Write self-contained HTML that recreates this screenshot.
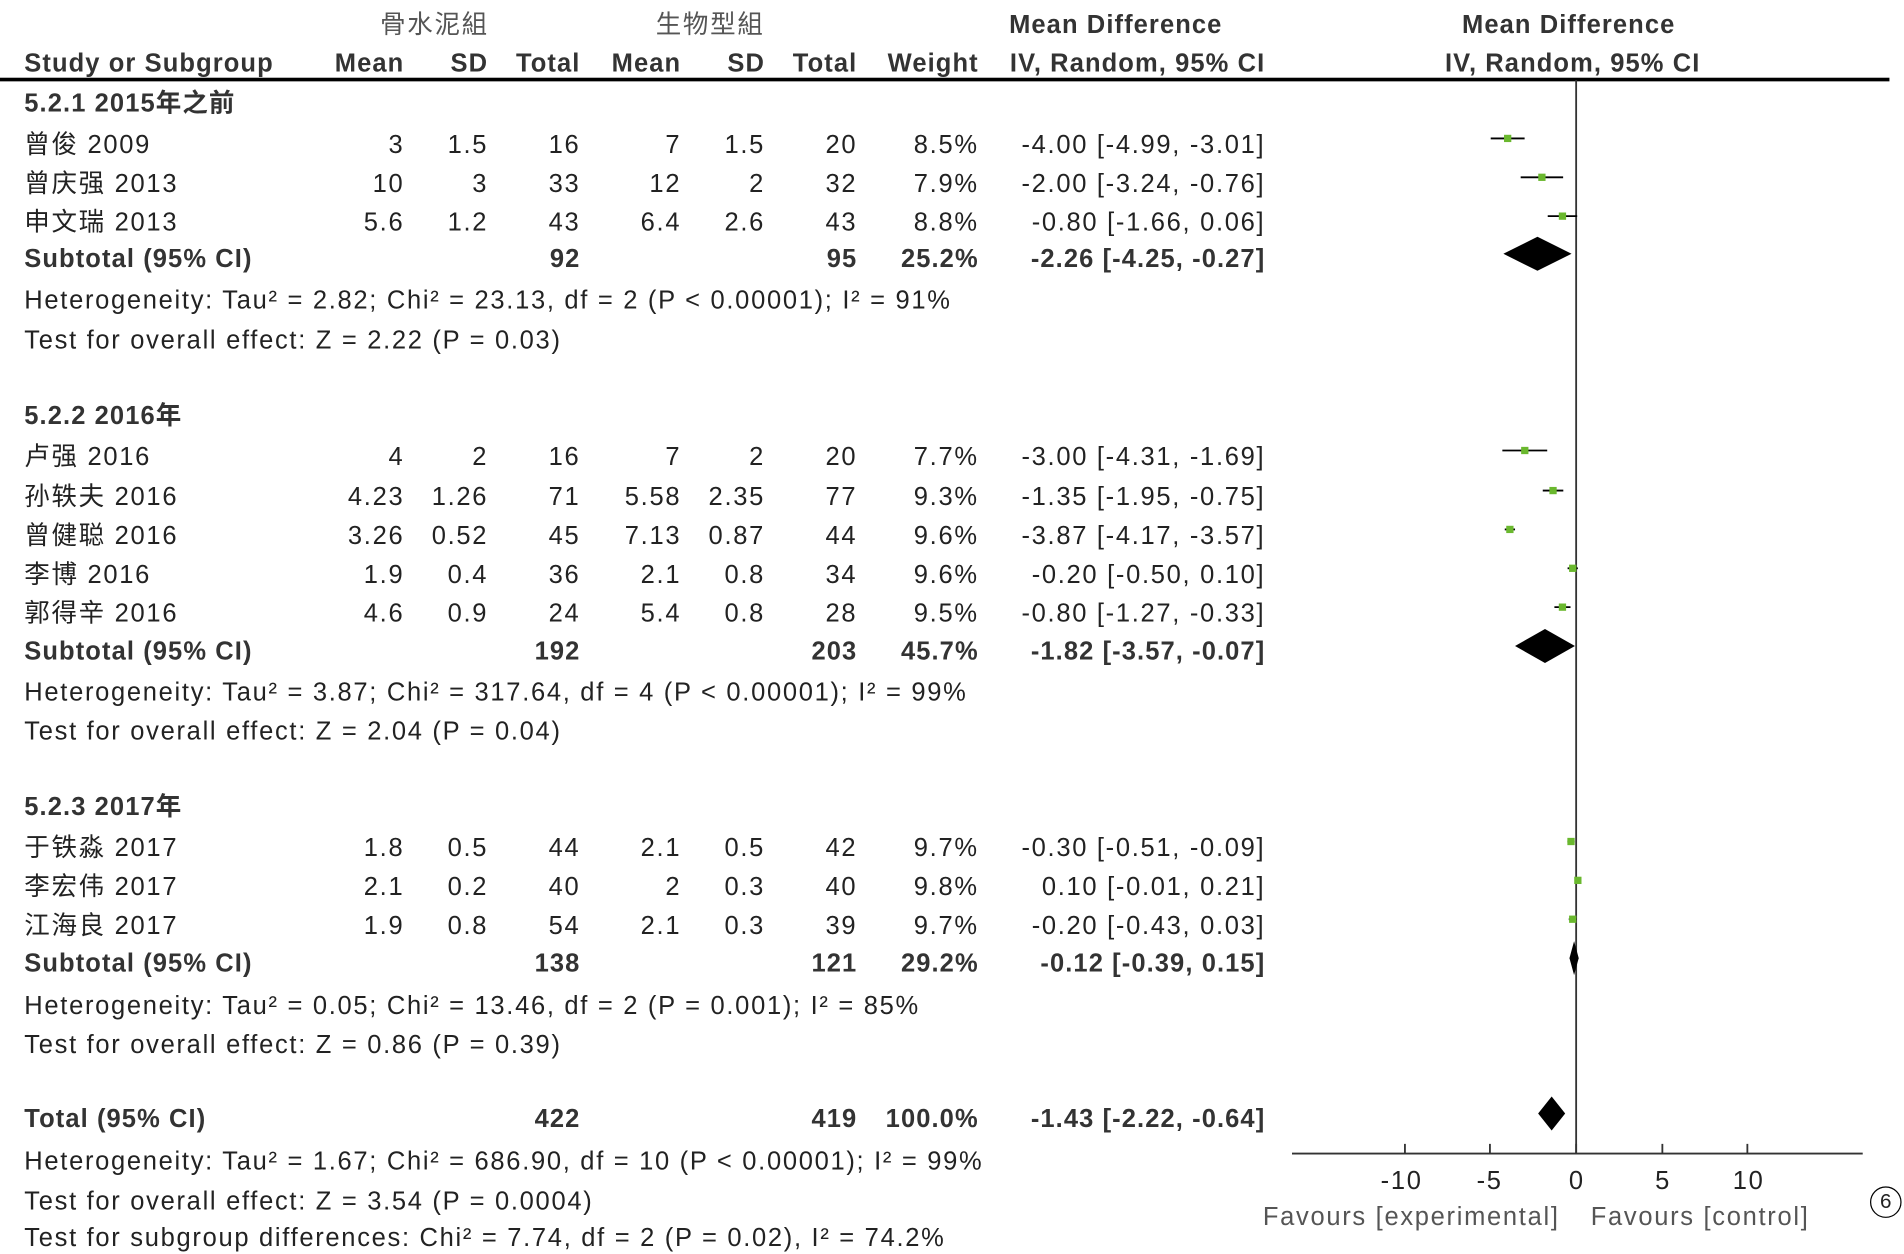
<!DOCTYPE html>
<html><head><meta charset="utf-8"><style>
html,body{margin:0;padding:0;background:#fff;width:1904px;height:1252px;overflow:hidden}
#w{position:absolute;left:0;top:0;width:1568px;height:1031px;transform:scale(1.21429);transform-origin:0 0;font-family:"Liberation Sans","Noto Sans CJK SC",sans-serif;font-size:21px;color:#222;letter-spacing:1.4px}
#w div{position:absolute;white-space:nowrap;line-height:26px}
.b{font-weight:bold;color:#333;letter-spacing:0.9px}
.g{color:#555}
</style></head><body><div id="w">
<div class="g" style="left:313px;top:8px">骨水泥組</div>
<div class="g" style="left:540px;top:8px">生物型組</div>
<div class="b" style="left:831px;top:8px">Mean Difference</div>
<div class="b" style="left:1204px;top:8px">Mean Difference</div>
<div class="b" style="left:20px;top:40px">Study or Subgroup</div>
<div class="b" style="right:1235px;top:40px">Mean</div>
<div class="b" style="right:1166px;top:40px">SD</div>
<div class="b" style="right:1090px;top:40px">Total</div>
<div class="b" style="right:1007px;top:40px">Mean</div>
<div class="b" style="right:938px;top:40px">SD</div>
<div class="b" style="right:862px;top:40px">Total</div>
<div class="b" style="right:762px;top:40px">Weight</div>
<div class="b" style="right:526px;top:40px">IV, Random, 95% CI</div>
<div class="b" style="left:1190px;top:40px">IV, Random, 95% CI</div>
<div style="left:0;top:64px;width:1556px;height:3px;background:#000"></div>

<div class="b" style="left:20px;top:73px">5.2.1 2015年之前</div>
<div class="b" style="left:20px;top:330px">5.2.2 2016年</div>
<div class="b" style="left:20px;top:652px">5.2.3 2017年</div>

<div id="rows"></div>
<div style="left:20px;top:235px">Heterogeneity: Tau² = 2.82; Chi² = 23.13, df = 2 (P &lt; 0.00001); I² = 91%</div>
<div style="left:20px;top:268px">Test for overall effect: Z = 2.22 (P = 0.03)</div>
<div style="left:20px;top:558px">Heterogeneity: Tau² = 3.87; Chi² = 317.64, df = 4 (P &lt; 0.00001); I² = 99%</div>
<div style="left:20px;top:590px">Test for overall effect: Z = 2.04 (P = 0.04)</div>
<div style="left:20px;top:816px">Heterogeneity: Tau² = 0.05; Chi² = 13.46, df = 2 (P = 0.001); I² = 85%</div>
<div style="left:20px;top:848px">Test for overall effect: Z = 0.86 (P = 0.39)</div>
<div style="left:20px;top:944px">Heterogeneity: Tau² = 1.67; Chi² = 686.90, df = 10 (P &lt; 0.00001); I² = 99%</div>
<div style="left:20px;top:977px">Test for overall effect: Z = 3.54 (P = 0.0004)</div>
<div style="left:20px;top:1007px">Test for subgroup differences: Chi² = 7.74, df = 2 (P = 0.02), I² = 74.2%</div>

<div style="left:1137px;top:960px">-10</div>
<div style="left:1216px;top:960px">-5</div>
<div style="left:1292px;top:960px">0</div>
<div style="left:1363px;top:960px">5</div>
<div style="left:1427px;top:960px">10</div>
<div class="g" style="left:1040px;top:990px">Favours [experimental]</div>
<div class="g" style="left:1310px;top:990px">Favours [control]</div>
<div style="left:1540px;top:977px;width:24px;height:24px;border:1.5px solid #000;border-radius:50%;text-align:center;line-height:24px;font-size:17px;letter-spacing:0">6</div>

<svg style="position:absolute;left:0;top:0" width="1568" height="1031">
<line x1="1298" y1="66" x2="1298" y2="950" stroke="#333" stroke-width="1.5"/>
<line x1="1064" y1="950" x2="1534" y2="950" stroke="#333" stroke-width="1.5"/>
<g stroke="#333" stroke-width="1.5">
<line x1="1157" y1="942" x2="1157" y2="950"/><line x1="1227" y1="942" x2="1227" y2="950"/><line x1="1298" y1="942" x2="1298" y2="950"/><line x1="1369" y1="942" x2="1369" y2="950"/><line x1="1439" y1="942" x2="1439" y2="950"/>
</g>
<g id="pl"></g>
</svg>
</div>
<script>
var R=[
[120,"曾俊 2009","3","1.5","16","7","1.5","20","8.5%","-4.00 [-4.99, -3.01]",-4,-4.99,-3.01,0],
[152,"曾庆强 2013","10","3","33","12","2","32","7.9%","-2.00 [-3.24, -0.76]",-2,-3.24,-0.76,0],
[184,"申文瑞 2013","5.6","1.2","43","6.4","2.6","43","8.8%","-0.80 [-1.66, 0.06]",-0.8,-1.66,0.06,0],
[214,"Subtotal (95% CI)","","","92","","","95","25.2%","-2.26 [-4.25, -0.27]",-2.26,-4.25,-0.27,1],
[377,"卢强 2016","4","2","16","7","2","20","7.7%","-3.00 [-4.31, -1.69]",-3,-4.31,-1.69,0],
[410,"孙轶夫 2016","4.23","1.26","71","5.58","2.35","77","9.3%","-1.35 [-1.95, -0.75]",-1.35,-1.95,-0.75,0],
[442,"曾健聪 2016","3.26","0.52","45","7.13","0.87","44","9.6%","-3.87 [-4.17, -3.57]",-3.87,-4.17,-3.57,0],
[474,"李博 2016","1.9","0.4","36","2.1","0.8","34","9.6%","-0.20 [-0.50, 0.10]",-0.2,-0.5,0.1,0],
[506,"郭得辛 2016","4.6","0.9","24","5.4","0.8","28","9.5%","-0.80 [-1.27, -0.33]",-0.8,-1.27,-0.33,0],
[537,"Subtotal (95% CI)","","","192","","","203","45.7%","-1.82 [-3.57, -0.07]",-1.82,-3.57,-0.07,1],
[699,"于铁淼 2017","1.8","0.5","44","2.1","0.5","42","9.7%","-0.30 [-0.51, -0.09]",-0.3,-0.51,-0.09,0],
[731,"李宏伟 2017","2.1","0.2","40","2","0.3","40","9.8%","0.10 [-0.01, 0.21]",0.1,-0.01,0.21,0],
[763,"江海良 2017","1.9","0.8","54","2.1","0.3","39","9.7%","-0.20 [-0.43, 0.03]",-0.2,-0.43,0.03,0],
[794,"Subtotal (95% CI)","","","138","","","121","29.2%","-0.12 [-0.39, 0.15]",-0.12,-0.39,0.15,1],
[922,"Total (95% CI)","","","422","","","419","100.0%","-1.43 [-2.22, -0.64]",-1.43,-2.22,-0.64,1]];
var rr=[1235,1166,1090,1007,938,862,762,526],h="",p="";
function X(v){return 1298+14.1*v}
R.forEach(function(r){var t=r[0]-13,c=r[13]?' class="b"':'';
h+='<div'+c+' style="left:20px;top:'+t+'px">'+r[1]+'</div>';
for(var i=0;i<8;i++)if(r[2+i])h+='<div'+c+' style="right:'+rr[i]+'px;top:'+t+'px">'+r[2+i]+'</div>';
var y=r[0]-6;
if(r[13]){var yy=r[0]-5,hh=14;p+='<polygon points="'+X(r[11])+','+yy+' '+X(r[10])+','+(yy-hh)+' '+X(r[12])+','+yy+' '+X(r[10])+','+(yy+hh)+'" fill="#000"/>';}
else{p+='<line x1="'+X(r[11])+'" y1="'+y+'" x2="'+X(r[12])+'" y2="'+y+'" stroke="#000" stroke-width="1.5"/><rect x="'+(X(r[10])-3)+'" y="'+(y-3)+'" width="6" height="6" fill="#6ab82e"/>';}
});
document.getElementById('rows').outerHTML=h;
document.getElementById('pl').innerHTML=p;
</script>
</body></html>
